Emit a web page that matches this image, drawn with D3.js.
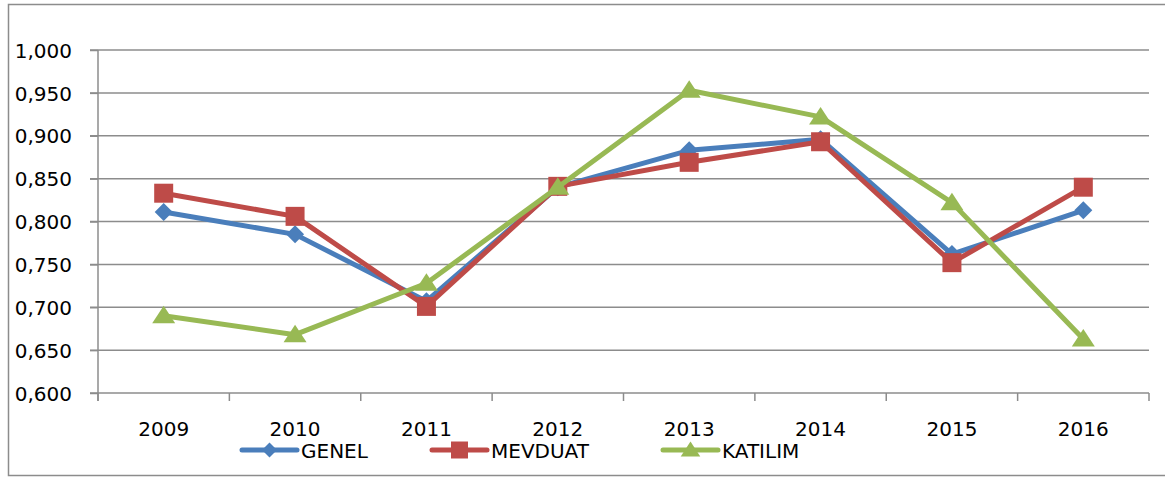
<!DOCTYPE html>
<html>
<head>
<meta charset="utf-8">
<script src="https://cdn.jsdelivr.net/npm/d3@7"></script>
<style>
  body { margin: 0; background: #fff; }
  text { font-family: "DejaVu Sans", sans-serif; font-size: 20px; fill: #000; }
</style>
</head>
<body>
<svg id="chart" width="1165" height="477"></svg>
<script>
var years = ["2009", "2010", "2011", "2012", "2013", "2014", "2015", "2016"];
var genel = [0.811, 0.785, 0.707, 0.840, 0.883, 0.896, 0.762, 0.813];
var mevduat = [0.833, 0.806, 0.701, 0.841, 0.869, 0.893, 0.752, 0.840];
var katilim = [0.690, 0.668, 0.728, 0.840, 0.953, 0.922, 0.822, 0.663];
var yTicks = [0.6, 0.65, 0.7, 0.75, 0.8, 0.85, 0.9, 0.95, 1.0];

var series = [
  {name: "GENEL", values: genel, color: "#4A7EBB", shape: "diamond"},
  {name: "MEVDUAT", values: mevduat, color: "#BE4B48", shape: "square"},
  {name: "KATILIM", values: katilim, color: "#98B954", shape: "triangle"}
];

var svg = d3.select("#chart");

// outer frame
svg.append("rect")
    .attr("x", 8.5).attr("y", 4.5)
    .attr("width", 1170).attr("height", 471)
    .attr("fill", "none")
    .attr("stroke", "#8c8c8c")
    .attr("stroke-width", 1.5);

var x = d3.scaleBand().domain(years).range([98, 1149]);
var y = d3.scaleLinear().domain([0.6, 1.0]).range([393, 50]);

var fmt = function(d) { return d3.format(".3f")(d).replace(".", ","); };

// gridlines
svg.append("g").selectAll("line")
    .data(yTicks)
    .enter().append("line")
    .attr("x1", 90).attr("x2", 1149)
    .attr("y1", function(d) { return y(d); })
    .attr("y2", function(d) { return y(d); })
    .attr("stroke", "#8c8c8c")
    .attr("stroke-width", 1.5);

// y axis
var yAxis = svg.append("g")
    .attr("transform", "translate(98,0)")
    .call(d3.axisLeft(y).tickValues(yTicks).tickFormat(fmt).tickSize(8).tickPadding(18));
yAxis.select(".domain").attr("stroke", "#8c8c8c").attr("stroke-width", 1.5)
    .attr("d", "M0,50V401");
yAxis.selectAll(".tick line").attr("stroke", "#8c8c8c").attr("stroke-width", 1.5);
yAxis.selectAll("text").attr("font-size", 20).attr("font-family", "DejaVu Sans").attr("dy", "0.36em");

// x axis ticks at category borders
var borders = years.map(function(d) { return x(d); }).concat([x.range()[1]]);
svg.append("g").selectAll("line")
    .data(borders)
    .enter().append("line")
    .attr("x1", function(d) { return d; }).attr("x2", function(d) { return d; })
    .attr("y1", 393).attr("y2", 401)
    .attr("stroke", "#8c8c8c")
    .attr("stroke-width", 1.5);

svg.append("g").selectAll("text")
    .data(years)
    .enter().append("text")
    .attr("x", function(d) { return x(d) + x.bandwidth() / 2; })
    .attr("y", 436)
    .attr("text-anchor", "middle")
    .text(function(d) { return d; });

function symbolPath(shape, s) {
  if (shape === "diamond") return "M0," + (-s) + "L" + s + ",0L0," + s + "L" + (-s) + ",0Z";
  if (shape === "square") return "M" + (-s) + "," + (-s) + "h" + (2 * s) + "v" + (2 * s) + "h" + (-2 * s) + "Z";
  return "M0," + (-s) + "L" + (s * 1.15) + "," + (s * 0.75) + "L" + (-s * 1.15) + "," + (s * 0.75) + "Z";
}
var markerSize = {diamond: 9, square: 9.5, triangle: 10};

var line = d3.line()
    .x(function(d, i) { return x(years[i]) + x.bandwidth() / 2; })
    .y(function(d) { return y(d); });

series.forEach(function(s) {
  var g = svg.append("g");
  g.append("path")
      .attr("d", line(s.values))
      .attr("fill", "none")
      .attr("stroke", s.color)
      .attr("stroke-width", 5)
      .attr("stroke-linejoin", "round");
  g.selectAll("path.mark")
      .data(s.values)
      .enter().append("path")
      .attr("class", "mark")
      .attr("transform", function(d, i) {
        return "translate(" + (x(years[i]) + x.bandwidth() / 2) + "," + y(d) + ")";
      })
      .attr("d", symbolPath(s.shape, markerSize[s.shape]))
      .attr("fill", s.color);
});

// legend
var legendX = [242, 432, 663];
var legend = svg.append("g").selectAll("g")
    .data(series)
    .enter().append("g")
    .attr("transform", function(d, i) { return "translate(" + legendX[i] + ",450)"; });
legend.append("line")
    .attr("x1", 0).attr("x2", 55)
    .attr("y1", 0).attr("y2", 0)
    .attr("stroke", function(d) { return d.color; })
    .attr("stroke-width", 5)
    .attr("stroke-linecap", "round");
legend.append("path")
    .attr("transform", "translate(27.5,0)")
    .attr("d", function(d) { return symbolPath(d.shape, d.shape === "diamond" ? 7.5 : 8.5); })
    .attr("fill", function(d) { return d.color; });
legend.append("text")
    .attr("x", 59)
    .attr("y", 8)
    .text(function(d) { return d.name; });
</script>
</body>
</html>
